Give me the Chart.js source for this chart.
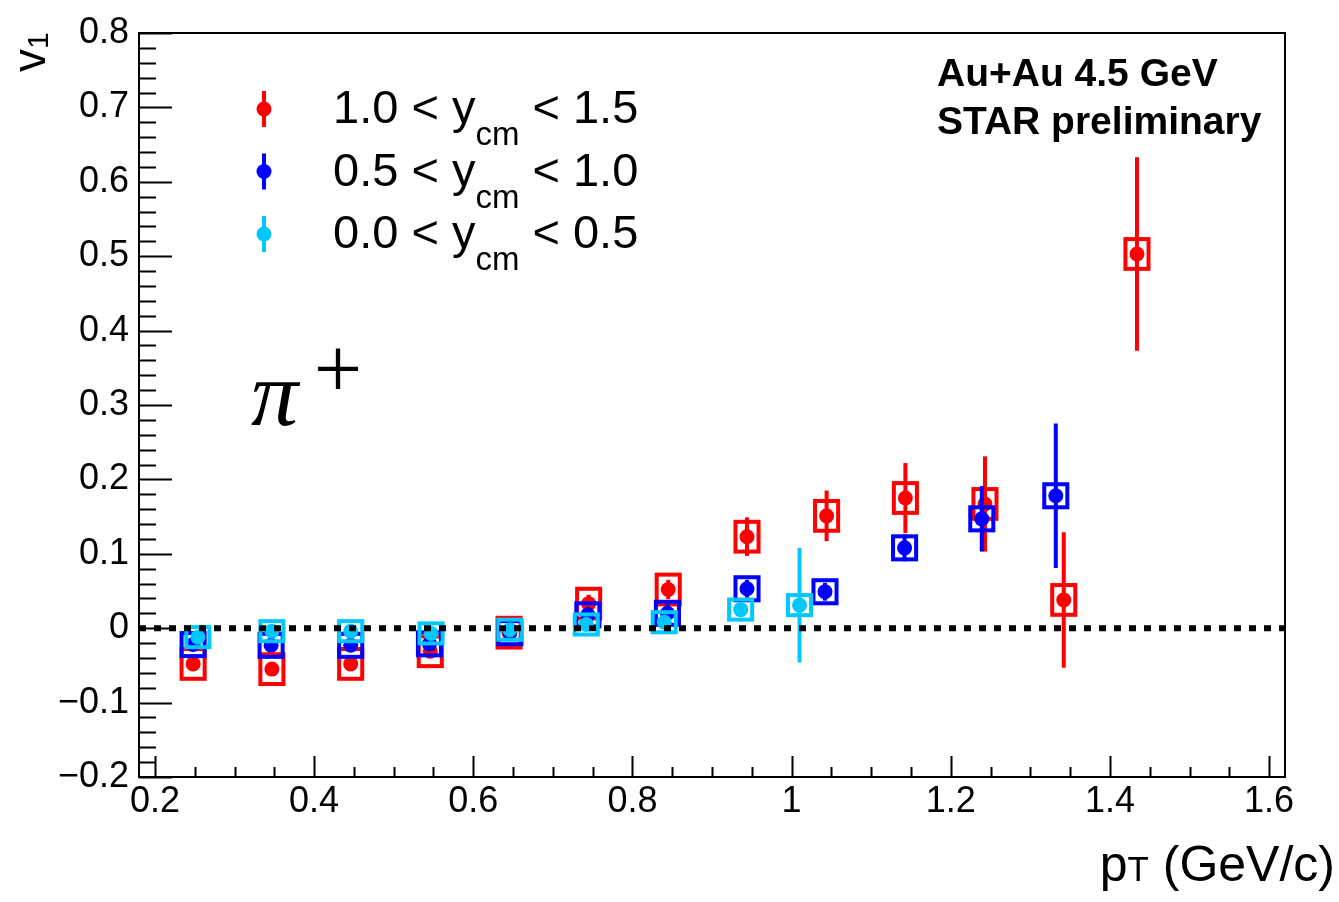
<!DOCTYPE html>
<html>
<head>
<meta charset="utf-8">
<title>pi+ v1 vs pT, Au+Au 4.5 GeV</title>
<script src="https://cdn.jsdelivr.net/npm/chart.js@4.4.1/dist/chart.umd.min.js"></script>
<style>
    html, body { margin: 0; padding: 0; background: #fff; }
    canvas { display: block; }
</style>
</head>
<body>
<canvas id="v1Chart" width="1339" height="902"></canvas>
<script>
// v1 of pi+ vs pT in three rapidity windows
const redPt   = [0.248, 0.347, 0.446, 0.546, 0.645, 0.745, 0.845, 0.944, 1.044, 1.143, 1.243, 1.342, 1.434];
const redV1   = [-0.048, -0.055, -0.048, -0.031, -0.006, 0.033, 0.052, 0.123, 0.151, 0.175, 0.167, 0.038, 0.503];
const redStat = [0.006, 0.006, 0.006, 0.007, 0.008, 0.012, 0.013, 0.026, 0.034, 0.047, 0.064, 0.091, 0.130];
const redSys  = [0.020, 0.020, 0.020, 0.020, 0.020, 0.020, 0.020, 0.020, 0.020, 0.020, 0.020, 0.020, 0.020];

const bluePt   = [0.248, 0.346, 0.446, 0.545, 0.646, 0.744, 0.844, 0.944, 1.042, 1.142, 1.239, 1.332];
const blueV1   = [-0.022, -0.023, -0.023, -0.021, -0.006, 0.018, 0.020, 0.053, 0.049, 0.108, 0.147, 0.178];
const blueStat = [0.005, 0.006, 0.006, 0.007, 0.008, 0.010, 0.012, 0.012, 0.012, 0.018, 0.044, 0.097];
const blueSys  = [0.0155, 0.0155, 0.0155, 0.0155, 0.0155, 0.0155, 0.0155, 0.0155, 0.0155, 0.0155, 0.0155, 0.0155];

const cyanPt   = [0.254, 0.347, 0.446, 0.547, 0.646, 0.742, 0.840, 0.936, 1.010];
const cyanV1   = [-0.012, -0.004, -0.004, -0.007, -0.002, 0.005, 0.008, 0.025, 0.031];
const cyanStat = [0.005, 0.005, 0.005, 0.005, 0.006, 0.007, 0.008, 0.010, 0.077];
const cyanSys  = [0.0135, 0.0135, 0.0135, 0.0135, 0.0135, 0.0135, 0.0135, 0.0135, 0.0135];

const xTicks = [0.2, 0.4, 0.6, 0.8, 1.0, 1.2, 1.4, 1.6];
const yTicks = [-0.2, -0.1, 0, 0.1, 0.2, 0.3, 0.4, 0.5, 0.6, 0.7, 0.8];

const SANS = '"Liberation Sans", Arial, Helvetica, sans-serif';
const SERIF = '"Liberation Serif", "Times New Roman", serif';
const BOX_HALF_W = 0.0145; // half width of systematic boxes, in pT

const series = [
    { lo: '1.0', hi: '1.5', color: '#ff0000', pt: redPt, v1: redV1, stat: redStat, sys: redSys, order: 3 },
    { lo: '0.5', hi: '1.0', color: '#0000ff', pt: bluePt, v1: blueV1, stat: blueStat, sys: blueSys, order: 2 },
    { lo: '0.0', hi: '0.5', color: '#00c8ff', pt: cyanPt, v1: cyanV1, stat: cyanStat, sys: cyanSys, order: 1 }
];

function fmtTick(v) {
    if (Math.abs(v) < 1e-9) return '0';
    if (Number.isInteger(v)) return String(v);
    const s = Math.abs(v).toFixed(1);
    return v < 0 ? '\u2212' + s : s;
}

// systematic boxes + stat error bars, drawn just under each dataset's points
const errorPlugin = {
    id: 'errorBoxes',
    beforeDatasetDraw(chart, args) {
        const s = series[args.index];
        const { ctx, scales: { x, y } } = chart;
        ctx.save();
        ctx.strokeStyle = s.color;
        ctx.lineWidth = 4;
        s.pt.forEach((pt, i) => {
            const px = x.getPixelForValue(pt);
            const x0 = x.getPixelForValue(pt - BOX_HALF_W);
            const x1 = x.getPixelForValue(pt + BOX_HALF_W);
            const yTop = y.getPixelForValue(s.v1[i] + s.sys[i]);
            const yBot = y.getPixelForValue(s.v1[i] - s.sys[i]);
            ctx.strokeRect(x0, yTop, x1 - x0, yBot - yTop);

            ctx.beginPath();
            ctx.moveTo(px, y.getPixelForValue(s.v1[i] + s.stat[i]));
            ctx.lineTo(px, y.getPixelForValue(s.v1[i] - s.stat[i]));
            ctx.stroke();
        });
        ctx.restore();
    }
};

// dashed line at v1 = 0, on top of the markers
const zeroLinePlugin = {
    id: 'zeroLine',
    afterDatasetsDraw(chart) {
        const { ctx, chartArea, scales: { y } } = chart;
        const py = y.getPixelForValue(0);
        ctx.save();
        ctx.strokeStyle = '#000';
        ctx.lineWidth = 6;
        ctx.setLineDash([7, 8]);
        ctx.beginPath();
        ctx.moveTo(chartArea.left, py);
        ctx.lineTo(chartArea.right, py);
        ctx.stroke();
        ctx.restore();
    }
};

// ROOT style frame with inward ticks
const framePlugin = {
    id: 'frame',
    afterDraw(chart) {
        const { ctx, chartArea: a, scales: { x, y } } = chart;
        ctx.save();
        ctx.strokeStyle = '#000';
        ctx.lineWidth = 2;
        ctx.strokeRect(a.left, a.top, a.right - a.left, a.bottom - a.top);

        ctx.beginPath();
        for (let k = 0; k <= 50; k++) {
            const v = -0.2 + k * 0.02;
            const py = Math.round(y.getPixelForValue(v)) + 0.5;
            const len = k % 5 === 0 ? 33 : 17;
            ctx.moveTo(a.left, py);
            ctx.lineTo(a.left + len, py);
        }
        for (let k = 0; k <= 28; k++) {
            const v = 0.2 + k * 0.05;
            const px = Math.round(x.getPixelForValue(v)) + 0.5;
            const len = k % 4 === 0 ? 21 : 10;
            ctx.moveTo(px, a.bottom);
            ctx.lineTo(px, a.bottom - len);
        }
        ctx.lineWidth = 2;
        ctx.stroke();
        ctx.restore();
    }
};

// text with one subscript part, returns end x
function drawSubText(ctx, x, y, before, sub, after, size, subSize, drop) {
    ctx.font = `${size}px ${SANS}`;
    ctx.fillText(before, x, y);
    x += ctx.measureText(before).width;
    ctx.font = `${subSize}px ${SANS}`;
    ctx.fillText(sub, x, y + drop);
    x += ctx.measureText(sub).width;
    ctx.font = `${size}px ${SANS}`;
    ctx.fillText(after, x, y);
    return x + ctx.measureText(after).width;
}

const labelPlugin = {
    id: 'labels',
    afterDraw(chart) {
        const ctx = chart.ctx;
        ctx.save();
        ctx.fillStyle = '#000';
        ctx.textBaseline = 'alphabetic';
        ctx.textAlign = 'left';

        // legend
        series.forEach((s, i) => {
            const my = 109 + i * 62.5;
            ctx.strokeStyle = s.color;
            ctx.fillStyle = s.color;
            ctx.lineWidth = 4;
            ctx.beginPath();
            ctx.moveTo(264, my - 18);
            ctx.lineTo(264, my + 18);
            ctx.stroke();
            ctx.beginPath();
            ctx.arc(264, my, 7.5, 0, Math.PI * 2);
            ctx.fill();
            ctx.fillStyle = '#000';
            drawSubText(ctx, 333, my + 14, s.lo + ' < y', 'cm', ' < ' + s.hi, 47, 33, 22);
        });

        // collision system
        ctx.font = `bold 39px ${SANS}`;
        ctx.fillText('Au+Au 4.5 GeV', 937, 86);
        ctx.fillText('STAR preliminary', 937, 134);

        // particle label
        ctx.font = `italic 94px ${SERIF}`;
        ctx.fillText('\u03c0', 251, 425);
        ctx.font = `86px ${SERIF}`;
        ctx.textAlign = 'center';
        ctx.fillText('+', 338, 398);
        ctx.textAlign = 'left';

        // x axis title
        ctx.font = `50px ${SANS}`;
        const w1 = ctx.measureText('p').width;
        const w3 = ctx.measureText(' (GeV/c)').width;
        ctx.font = `35px ${SANS}`;
        const w2 = ctx.measureText('T').width;
        drawSubText(ctx, 1335 - w1 - w2 - w3, 881, 'p', 'T', ' (GeV/c)', 50, 35, 0);

        // y axis title, rotated
        ctx.translate(45, 72);
        ctx.rotate(-Math.PI / 2);
        drawSubText(ctx, 0, 0, 'v', '1', '', 46, 30, 3);
        ctx.restore();
    }
};

const datasets = series.map(s => ({
    label: s.lo + ' < y_cm < ' + s.hi,
    data: s.pt.map((pt, i) => ({ x: pt, y: s.v1[i] })),
    showLine: false,
    pointRadius: 7.5,
    pointHoverRadius: 7.5,
    pointBorderWidth: 0,
    pointBackgroundColor: s.color,
    pointBorderColor: s.color,
    order: s.order
}));

new Chart(document.getElementById('v1Chart'), {
    type: 'scatter',
    data: { datasets: datasets },
    options: {
        responsive: false,
        animation: false,
        events: [],
        layout: { autoPadding: false, padding: { left: 0, top: 33, right: 54, bottom: 0 } },
        plugins: {
            legend: { display: false },
            tooltip: { enabled: false }
        },
        scales: {
            x: {
                type: 'linear',
                min: 0.18,
                max: 1.62,
                afterBuildTicks: s => { s.ticks = xTicks.map(v => ({ value: v })); },
                afterFit: s => { s.height = 125; },
                grid: { display: false, drawTicks: false },
                border: { display: false },
                ticks: {
                    padding: 3,
                    color: '#000',
                    autoSkip: false,
                    maxRotation: 0,
                    font: { family: SANS, size: 36 },
                    callback: v => fmtTick(v)
                }
            },
            y: {
                type: 'linear',
                min: -0.2,
                max: 0.8,
                afterBuildTicks: s => { s.ticks = yTicks.map(v => ({ value: v })); },
                afterFit: s => { s.width = 139; },
                grid: { display: false, drawTicks: false },
                border: { display: false },
                ticks: {
                    padding: 10,
                    color: '#000',
                    autoSkip: false,
                    font: { family: SANS, size: 36 },
                    callback: v => fmtTick(v)
                }
            }
        }
    },
    plugins: [errorPlugin, zeroLinePlugin, framePlugin, labelPlugin]
});
</script>
</body>
</html>
